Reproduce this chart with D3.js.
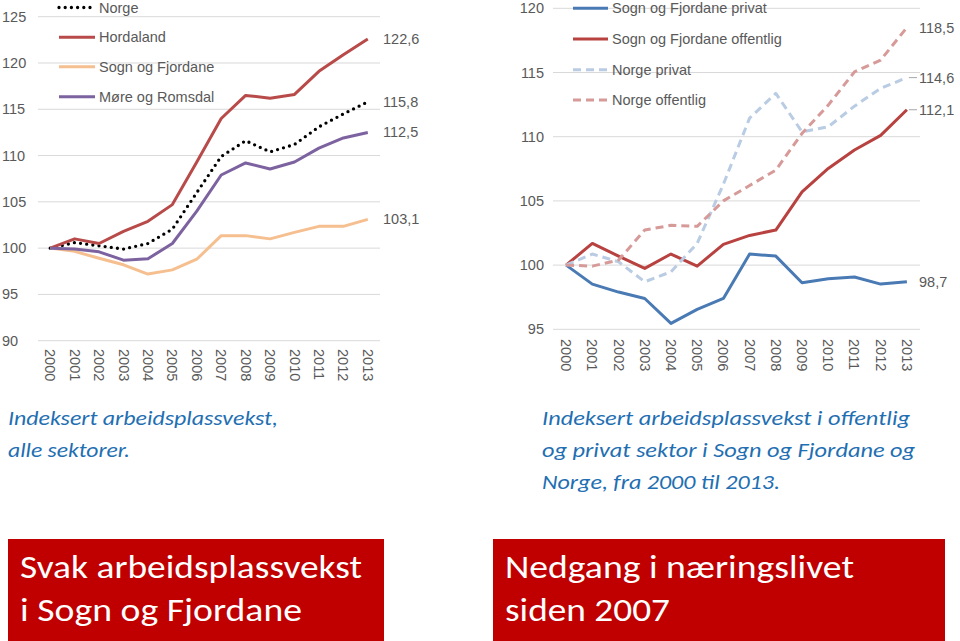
<!DOCTYPE html>
<html>
<head>
<meta charset="utf-8">
<script src="https://cdn.jsdelivr.net/npm/d3@7"></script>
<style>
  html, body { margin: 0; padding: 0; background: #fff; }
  svg { display: block; }
</style>
</head>
<body>
<svg id="chart" width="960" height="641"></svg>
<script>
// ---------- DATA ----------
const years = ["2000","2001","2002","2003","2004","2005","2006","2007","2008","2009","2010","2011","2012","2013"];

// Left chart: indexed job growth, all sectors
const leftTicks = [90, 95, 100, 105, 110, 115, 120, 125];
const norge      = [100, 100.6, 100.25, 99.9, 100.5, 102.05, 106.0, 109.9, 111.6, 110.4, 111.2, 113.1, 114.5, 115.8];
const hordaland  = [100, 101.0, 100.5, 101.8, 102.9, 104.7, 109.3, 114.0, 116.5, 116.2, 116.6, 119.1, 120.9, 122.6];
const sognFj     = [100, 99.65, 98.9, 98.2, 97.2, 97.65, 98.8, 101.35, 101.35, 101.0, 101.7, 102.35, 102.35, 103.1];
const moreRoms   = [100, 99.9, 99.6, 98.7, 98.85, 100.5, 104.0, 107.9, 109.2, 108.55, 109.3, 110.8, 111.9, 112.5];
const leftNames  = ["Norge", "Hordaland", "Sogn og Fjordane", "Møre og Romsdal"];
const leftEndLabels = ["115,8", "122,6", "103,1", "112,5"];

// Right chart: public vs private sector
const rightTicks = [95, 100, 105, 110, 115, 120];
const sfPrivat     = [100, 98.52, 97.9, 97.4, 95.46, 96.55, 97.4, 100.86, 100.7, 98.62, 98.93, 99.07, 98.52, 98.7];
const sfOffentlig  = [100, 101.69, 100.7, 99.74, 100.86, 99.92, 101.62, 102.31, 102.73, 105.71, 107.53, 108.96, 110.1, 112.1];
const norgePrivat  = [100, 100.86, 100.26, 98.7, 99.48, 101.69, 106.3, 111.45, 113.37, 110.38, 110.77, 112.38, 113.76, 114.6];
const norgeOffentlig = [100, 99.92, 100.39, 102.73, 103.1, 103.02, 105.0, 106.2, 107.4, 110.26, 112.46, 115.05, 115.97, 118.5];
const rightNames = ["Sogn og Fjordane privat", "Sogn og Fjordane offentlig", "Norge privat", "Norge offentlig"];
const rightEndLabels = ["98,7", "112,1", "114,6", "118,5"];

// Text
const leftCaption  = ["Indeksert arbeidsplassvekst,", "alle sektorer."];
const rightCaption = ["Indeksert arbeidsplassvekst i offentlig", "og privat sektor i Sogn og Fjordane og", "Norge, fra 2000 til 2013."];
const leftBox  = ["Svak arbeidsplassvekst", "i Sogn og Fjordane"];
const rightBox = ["Nedgang i næringslivet", "siden 2007"];

// ---------- DRAW ----------
const svg = d3.select("#chart");
const FONT = "'Liberation Sans', Arial, sans-serif";
const GREY = "#595959";
const GRID = "#d9d9d9";

function drawChart(cfg) {
  const g = svg.append("g");
  const x = d3.scalePoint().domain(years).range(cfg.xRange).padding(0.5);
  const y = d3.scaleLinear().domain(cfg.yDomain).range(cfg.yRange);

  // gridlines
  g.selectAll(".grid").data(cfg.ticks).join("line")
    .attr("x1", cfg.xRange[0]).attr("x2", cfg.xRange[1])
    .attr("y1", d => y(d)).attr("y2", d => y(d))
    .attr("stroke", GRID).attr("stroke-width", 1);

  // y labels
  g.selectAll(".ylab").data(cfg.ticks).join("text")
    .attr("x", cfg.yLabelX).attr("y", d => y(d))
    .attr("text-anchor", cfg.yLabelAnchor)
    .attr("dominant-baseline", "central")
    .attr("font-family", FONT).attr("font-size", 14.5).attr("fill", GREY)
    .text(d => d);

  // x labels rotated
  g.selectAll(".xlab").data(years).join("text")
    .attr("transform", d => `translate(${x(d)},${cfg.xLabelTop}) rotate(90)`)
    .attr("dominant-baseline", "central")
    .attr("font-family", FONT).attr("font-size", 14.5).attr("fill", GREY)
    .text(d => d);

  const line = d3.line().x((d, i) => x(years[i])).y(d => y(d));

  cfg.series.forEach(s => {
    g.append("path").datum(s.values)
      .attr("d", line)
      .attr("fill", "none")
      .attr("stroke", s.color)
      .attr("stroke-width", s.width)
      .attr("stroke-dasharray", s.dash || null)
      .attr("stroke-linecap", s.cap || "butt")
      .attr("stroke-linejoin", "round");

    const last = s.values[s.values.length - 1];
    if (s.leader) {
      g.append("line")
        .attr("x1", x(years[years.length - 1]) + 2).attr("x2", cfg.endLabelX - 2)
        .attr("y1", y(last)).attr("y2", y(last))
        .attr("stroke", "#a6a6a6").attr("stroke-width", 1);
    }
    g.append("text")
      .attr("x", cfg.endLabelX).attr("y", y(last))
      .attr("dominant-baseline", "central")
      .attr("font-family", FONT).attr("font-size", 14.5).attr("fill", GREY)
      .text(s.label);
  });

  // legend
  cfg.series.forEach((s, i) => {
    const ly = cfg.legendY[i];
    g.append("line")
      .attr("x1", cfg.legendX[0]).attr("x2", cfg.legendX[1])
      .attr("y1", ly).attr("y2", ly)
      .attr("stroke", s.color).attr("stroke-width", s.width)
      .attr("stroke-dasharray", s.dash || null)
      .attr("stroke-linecap", s.cap || "butt");
    g.append("text")
      .attr("x", cfg.legendX[1] + 4).attr("y", ly)
      .attr("dominant-baseline", "central")
      .attr("font-family", FONT).attr("font-size", 14.5).attr("fill", GREY)
      .text(s.name);
  });
}

drawChart({
  xRange: [38, 380], yDomain: [90, 125], yRange: [340.7, 16.7],
  ticks: leftTicks, yLabelX: 2, yLabelAnchor: "start", xLabelTop: 349,
  endLabelX: 383,
  legendX: [59, 95], legendY: [7.5, 37.3, 66.8, 96.7],
  series: [
    { name: leftNames[0], values: norge, color: "#000000", width: 3.3, dash: "0,6.2", cap: "round", label: leftEndLabels[0] },
    { name: leftNames[1], values: hordaland, color: "#b84b49", width: 3, label: leftEndLabels[1] },
    { name: leftNames[2], values: sognFj, color: "#f6bf8f", width: 3, label: leftEndLabels[2] },
    { name: leftNames[3], values: moreRoms, color: "#7d62a0", width: 3, label: leftEndLabels[3] }
  ]
});

drawChart({
  xRange: [553, 920], yDomain: [95, 120], yRange: [329.3, 8.3],
  ticks: rightTicks, yLabelX: 544, yLabelAnchor: "end", xLabelTop: 339,
  endLabelX: 919,
  legendX: [573, 608], legendY: [8.3, 39, 69.7, 100],
  series: [
    { name: rightNames[0], values: sfPrivat, color: "#4a7ab4", width: 3, label: rightEndLabels[0] },
    { name: rightNames[1], values: sfOffentlig, color: "#b8423f", width: 3, label: rightEndLabels[1], leader: true },
    { name: rightNames[2], values: norgePrivat, color: "#b9cce3", width: 3, dash: "8,5", label: rightEndLabels[2], leader: true },
    { name: rightNames[3], values: norgeOffentlig, color: "#d69a99", width: 3, dash: "8,5", label: rightEndLabels[3] }
  ]
});

// captions
const CAP_FONT = "Carlito, Calibri, 'Open Sans', sans-serif";
const CAP_COLOR = "#1f6fb2";
function caption(lines, x, y0, widths) {
  lines.forEach((t, i) => {
    svg.append("text")
      .attr("x", x).attr("y", y0 + i * 32)
      .attr("font-family", CAP_FONT).attr("font-style", "italic")
      .attr("font-size", 20).attr("fill", CAP_COLOR)
      .attr("textLength", widths[i]).attr("lengthAdjust", "spacingAndGlyphs")
      .text(t);
  });
}
caption(leftCaption, 8, 425, [270, 122]);
caption(rightCaption, 542, 425, [368, 373, 238]);

// red boxes
function box(lines, x, w, widths) {
  svg.append("rect").attr("x", x).attr("y", 539).attr("width", w).attr("height", 102)
    .attr("fill", "#c00000");
  lines.forEach((t, i) => {
    svg.append("text")
      .attr("x", x + 12).attr("y", 578 + i * 43)
      .attr("font-family", CAP_FONT).attr("font-size", 32).attr("fill", "#ffffff")
      .attr("textLength", widths[i]).attr("lengthAdjust", "spacingAndGlyphs")
      .text(t);
  });
}
box(leftBox, 8, 376, [342, 282]);
box(rightBox, 493, 452, [349, 165]);
</script>
</body>
</html>
